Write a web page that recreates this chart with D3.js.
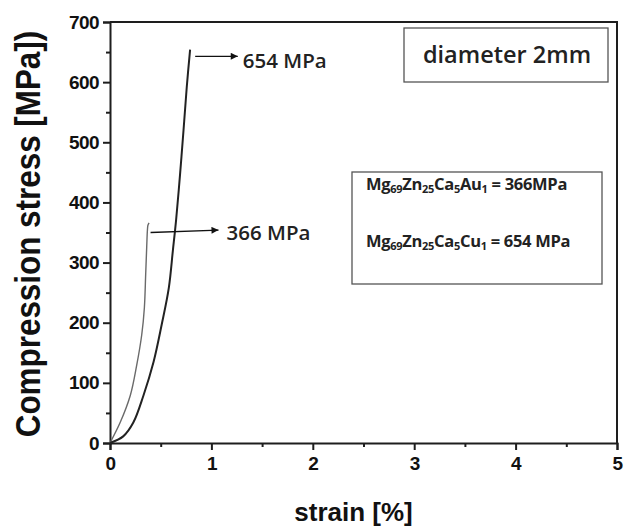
<!DOCTYPE html>
<html>
<head>
<meta charset="utf-8">
<script src="https://cdn.jsdelivr.net/npm/d3@7/dist/d3.min.js"></script>
<style>
  body { margin: 0; background: #fff; }
  svg { display: block; }
</style>
</head>
<body>
<svg width="624" height="529"></svg>
<script>
(function (d3) {
    'use strict';

// Datos (deformación en %, esfuerzo en MPa)
const auStrain = [0, 0.10, 0.20, 0.263, 0.313, 0.339, 0.352, 0.362, 0.369, 0.374, 0.385];
const auStress = [0, 34, 79, 129, 180, 225, 281, 326, 354, 362, 366];

const cuStrain = [0, 0.13, 0.23, 0.33, 0.43, 0.51, 0.58, 0.62, 0.652, 0.69, 0.725, 0.757, 0.79];
const cuStress = [0, 11, 34, 79, 135, 197, 258, 320, 371, 445, 520, 592, 654];

const xTicks = [0, 1, 2, 3, 4, 5];
const yTicks = [0, 100, 200, 300, 400, 500, 600, 700];

const svg = d3.select('svg');

const margen = { izq: 110, der: 617, arriba: 22, abajo: 443 };

const x = d3.scaleLinear().domain([0, 5]).range([margen.izq, margen.der]);
const y = d3.scaleLinear().domain([0, 700]).range([margen.abajo, margen.arriba]);

const color = '#1e1e1e';

// Marco (arriba y derecha)
svg.append('path')
    .attr('d', `M${margen.izq},${margen.arriba} H${margen.der} V${margen.abajo}`)
    .attr('fill', 'none')
    .attr('stroke', color)
    .attr('stroke-width', 2);

// Ejes
const ejeX = svg.append('g')
    .attr('transform', `translate(0, ${margen.abajo})`)
    .call(d3.axisBottom(x).tickValues(xTicks).tickSize(7).tickPadding(7).tickFormat(d3.format('d')));

const ejeXMenor = svg.append('g')
    .attr('transform', `translate(0, ${margen.abajo})`)
    .call(d3.axisBottom(x).tickValues([0.5, 1.5, 2.5, 3.5, 4.5]).tickSize(4).tickFormat(''));

const ejeY = svg.append('g')
    .attr('transform', `translate(${margen.izq}, 0)`)
    .call(d3.axisLeft(y).tickValues(yTicks).tickSize(7).tickPadding(4).tickFormat(d3.format('d')));

const ejeYMenor = svg.append('g')
    .attr('transform', `translate(${margen.izq}, 0)`)
    .call(d3.axisLeft(y).tickValues([50, 150, 250, 350, 450, 550, 650]).tickSize(4).tickFormat(''));

[ejeX, ejeXMenor, ejeY, ejeYMenor].forEach(g => {
    g.select('.domain').attr('stroke', color).attr('stroke-width', 2);
    g.selectAll('.tick line').attr('stroke', color).attr('stroke-width', 2);
    g.selectAll('.tick text')
        .attr('fill', '#111')
        .style('font-family', '"Liberation Sans", Arial, sans-serif')
        .style('font-weight', 'bold')
        .style('font-size', '19px')
        .style('letter-spacing', '-0.6px');
});
ejeXMenor.select('.domain').remove();
ejeYMenor.select('.domain').remove();

// Etiquetas de los ejes
svg.append('text')
    .attr('x', (margen.izq + margen.der) / 2 - 10)
    .attr('y', 521)
    .attr('text-anchor', 'middle')
    .style('font-family', '"Liberation Sans", Arial, sans-serif')
    .style('font-weight', 'bold')
    .style('font-size', '26px')
    .attr('fill', '#111')
    .text('strain [%]');

svg.append('text')
    .attr('transform', 'translate(40, 234) rotate(-90) scale(1, 1.1)')
    .attr('text-anchor', 'middle')
    .style('font-family', '"Liberation Sans", Arial, sans-serif')
    .style('font-weight', 'bold')
    .style('font-size', '31.4px')
    .attr('fill', '#111')
    .text('Compression stress [MPa])');

// Curvas
const linea = d3.line()
    .x(d => x(d[0]))
    .y(d => y(d[1]))
    .curve(d3.curveCatmullRom.alpha(0.5));

svg.append('path')
    .datum(d3.zip(auStrain, auStress))
    .attr('d', linea)
    .attr('fill', 'none')
    .attr('stroke', '#6a6a6a')
    .attr('stroke-width', 1.4);

svg.append('path')
    .datum(d3.zip(cuStrain, cuStress))
    .attr('d', linea)
    .attr('fill', 'none')
    .attr('stroke', '#222')
    .attr('stroke-width', 2);

// Flechas y anotaciones
svg.append('defs').append('marker')
    .attr('id', 'punta')
    .attr('viewBox', '0 0 10 10')
    .attr('refX', 10).attr('refY', 5)
    .attr('markerWidth', 9).attr('markerHeight', 7)
    .attr('markerUnits', 'userSpaceOnUse')
    .attr('orient', 'auto')
    .append('path')
        .attr('d', 'M0,0 L10,5 L0,10 Z')
        .attr('fill', '#111');

const flechas = [
    { x0: 0.84, y0: 643, x1: 1.26, y1: 643, texto: '654 MPa', tx: 1.31, ty: 623 },
    { x0: 0.40, y0: 350, x1: 1.07, y1: 354, texto: '366 MPa', tx: 1.15, ty: 338 }
];

flechas.forEach(f => {
    svg.append('line')
        .attr('x1', x(f.x0)).attr('y1', y(f.y0))
        .attr('x2', x(f.x1)).attr('y2', y(f.y1))
        .attr('stroke', '#111')
        .attr('stroke-width', 1.3)
        .attr('marker-end', 'url(#punta)');
    svg.append('text')
        .attr('x', x(f.tx)).attr('y', y(f.ty))
        .style('font-family', '"Open Sans", sans-serif')
        .style('font-size', '20.5px')
        .style('font-weight', '600')
        .attr('fill', '#222')
        .text(f.texto);
});

// Cuadro "diameter 2mm"
svg.append('rect')
    .attr('x', 404).attr('y', 28)
    .attr('width', 204).attr('height', 54)
    .attr('fill', '#fff')
    .attr('stroke', '#555')
    .attr('stroke-width', 1.3);

svg.append('text')
    .attr('x', 507).attr('y', 63)
    .attr('text-anchor', 'middle')
    .style('font-family', '"Open Sans", sans-serif')
    .style('font-size', '23.5px')
    .style('font-weight', '600')
    .attr('fill', '#222')
    .text('diameter 2mm');

// Leyenda con fórmulas
svg.append('rect')
    .attr('x', 352).attr('y', 172)
    .attr('width', 250).attr('height', 112)
    .attr('fill', '#fff')
    .attr('stroke', '#555')
    .attr('stroke-width', 1.3);

const formulas = [
    { partes: [['Mg', 0], ['69', 1], ['Zn', 0], ['25', 1], ['Ca', 0], ['5', 1], ['Au', 0], ['1', 1], [' = 366MPa', 0]], yb: 190 },
    { partes: [['Mg', 0], ['69', 1], ['Zn', 0], ['25', 1], ['Ca', 0], ['5', 1], ['Cu', 0], ['1', 1], [' = 654 MPa', 0]], yb: 247 }
];

formulas.forEach(f => {
    const t = svg.append('text')
        .attr('x', 366).attr('y', f.yb)
        .style('font-family', '"Open Sans", sans-serif')
        .style('font-weight', 'bold')
        .style('font-size', '16.5px')
        .style('letter-spacing', '-0.3px')
        .attr('fill', '#222');
    f.partes.forEach((p, i) => {
        const anterior = i > 0 ? f.partes[i - 1][1] : 0;
        const s = t.append('tspan').text(p[0])
            .attr('dy', p[1] - anterior === 1 ? 3 : (p[1] - anterior === -1 ? -3 : 0));
        if (p[1]) s.style('font-size', '11px');
    });
});

}(d3));
</script>
</body>
</html>
